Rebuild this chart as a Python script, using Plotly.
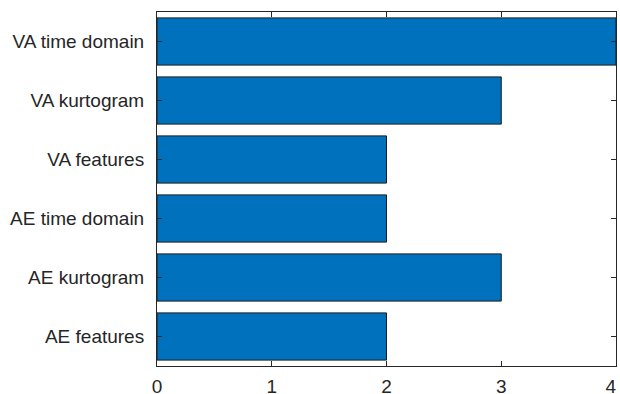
import plotly.graph_objects as go

# Number of selected features per data source / representation
categories = ["VA time domain", "VA kurtogram", "VA features",
              "AE time domain", "AE kurtogram", "AE features"]
values = [4, 3, 2, 2, 3, 2]
x_ticks = [0, 1, 2, 3, 4]
# last label is nudged left so it stays inside the figure edge
x_tick_labels = ["0", "1", "2", "3", "4\u00a0\u00a0"]

fig = go.Figure(
    go.Bar(
        x=values,
        y=categories,
        orientation="h",
        width=0.8,
        marker=dict(color="#0072BD", line=dict(color="#1a1a1a", width=1)),
    )
)

axis_common = dict(
    showline=True,
    linecolor="#262626",
    linewidth=1,
    mirror="ticks",
    ticks="inside",
    ticklen=5,
    tickwidth=1,
    tickcolor="#262626",
    showgrid=False,
    zeroline=False,
    automargin=False,
    ticklabeloverflow="allow",
    tickfont=dict(family="Liberation Sans, Arial, sans-serif", size=19, color="#262626"),
)

fig.update_layout(
    width=620,
    height=394,
    margin=dict(l=157, r=4, t=12, b=28),
    plot_bgcolor="white",
    paper_bgcolor="white",
    showlegend=False,
    xaxis=dict(range=[0, 4], tickvals=x_ticks, ticktext=x_tick_labels,
               ticklabelstandoff=3, **axis_common),
    yaxis=dict(
        type="category",
        categoryorder="array",
        categoryarray=categories,
        range=[5.5, -0.5],
        ticklabelstandoff=8,
        **axis_common,
    ),
)

fig.write_html("out.html")
